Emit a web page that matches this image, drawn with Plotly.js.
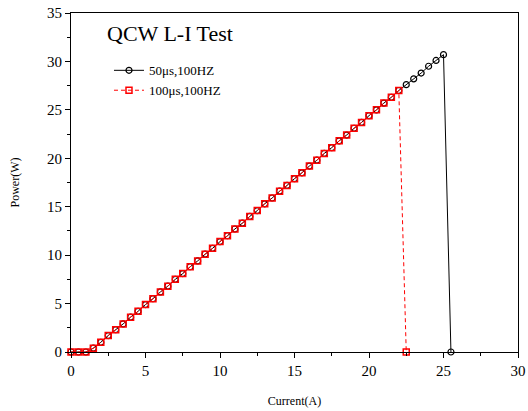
<!DOCTYPE html>
<html><head><meta charset="utf-8">
<script src="https://cdn.plot.ly/plotly-3.0.1.min.js"></script>
<style>body{margin:0;background:#fff}#chart{width:528px;height:411px}</style>
</head><body><div id="chart"></div>
<script>
const current50 = [0,0.5,1,1.5,2,2.5,3,3.5,4,4.5,5,5.5,6,6.5,7,7.5,8,8.5,9,9.5,10,10.5,11,11.5,12,12.5,13,13.5,14,14.5,15,15.5,16,16.5,17,17.5,18,18.5,19,19.5,20,20.5,21,21.5,22,22.5,23,23.5,24,24.5,25,25.5];
const power50 = [0,0,0,0.4,1.0,1.7,2.3,2.9,3.6,4.2,4.9,5.5,6.2,6.8,7.5,8.1,8.8,9.4,10.1,10.7,11.4,12.0,12.7,13.3,14.0,14.6,15.3,15.9,16.6,17.2,17.9,18.5,19.2,19.8,20.5,21.1,21.8,22.4,23.1,23.7,24.4,25.0,25.7,26.3,27.0,27.6,28.2,28.8,29.5,30.1,30.7,0];
const current100 = [0,0.5,1,1.5,2,2.5,3,3.5,4,4.5,5,5.5,6,6.5,7,7.5,8,8.5,9,9.5,10,10.5,11,11.5,12,12.5,13,13.5,14,14.5,15,15.5,16,16.5,17,17.5,18,18.5,19,19.5,20,20.5,21,21.5,22,22.5];
const power100 = [0,0,0,0.4,1.0,1.7,2.3,2.9,3.6,4.2,4.9,5.5,6.2,6.8,7.5,8.1,8.8,9.4,10.1,10.7,11.4,12.0,12.7,13.3,14.0,14.6,15.3,15.9,16.6,17.2,17.9,18.5,19.2,19.8,20.5,21.1,21.8,22.4,23.1,23.7,24.4,25.0,25.7,26.3,27.0,0];
const seriesNames = ["50\u03bcs,100HZ","100\u03bcs,100HZ"];
const chartTitle = "QCW L-I Test";
const xTitle = "Current(A)";
const yTitle = "Power(W)";

const font = "Liberation Serif, Times New Roman, serif";
const traces = [
  {x: current50, y: power50, name: seriesNames[0], type: "scatter", mode: "lines+markers",
   cliponaxis: false,
   line: {color: "#000", width: 1},
   marker: {symbol: "circle-open", size: 6, color: "#000", line: {width: 1.2}}},
  {x: current100, y: power100, name: seriesNames[1], type: "scatter", mode: "lines+markers",
   cliponaxis: false,
   line: {color: "#ff0000", width: 1, dash: "4px,3px"},
   marker: {symbol: "square-open", size: 6, color: "#ff0000", line: {width: 1.5}}}
];
const axisCommon = {
  showgrid: false, zeroline: false, showline: true, mirror: true,
  linecolor: "#000", linewidth: 1, ticks: "outside", ticklen: 5, tickwidth: 1, tickcolor: "#000",
  tickfont: {family: font, size: 15, color: "#000"}
};
const layout = {
  width: 528, height: 411,
  margin: {l: 71, r: 10, t: 13, b: 59},
  paper_bgcolor: "#fff", plot_bgcolor: "#fff",
  showlegend: true,
  legend: {x: 0.085, y: 0.875, xanchor: "left", yanchor: "top", bgcolor: "rgba(0,0,0,0)",
           font: {family: font, size: 13, color: "#000"}, tracegroupgap: 2, itemwidth: 30},
  xaxis: Object.assign({}, axisCommon, {range: [0, 30], tick0: 0, dtick: 5,
    minor: {ticks: "outside", ticklen: 3, tickcolor: "#000", tickwidth: 1, dtick: 2.5},
    title: {text: xTitle, font: {family: font, size: 12, color: "#000"}, standoff: 18}}),
  yaxis: Object.assign({}, axisCommon, {range: [0, 35], tick0: 0, dtick: 5,
    minor: {ticks: "outside", ticklen: 3, tickcolor: "#000", tickwidth: 1, dtick: 2.5},
    title: {text: yTitle, font: {family: font, size: 12, color: "#000"}, standoff: 24}}),
  annotations: [{text: chartTitle, xref: "paper", yref: "paper", x: 0.075, y: 0.941,
    xanchor: "left", yanchor: "middle", showarrow: false,
    font: {family: font, size: 22, color: "#000"}}]
};
Plotly.newPlot("chart", traces, layout, {displayModeBar: false, staticPlot: true});
</script></body></html>
